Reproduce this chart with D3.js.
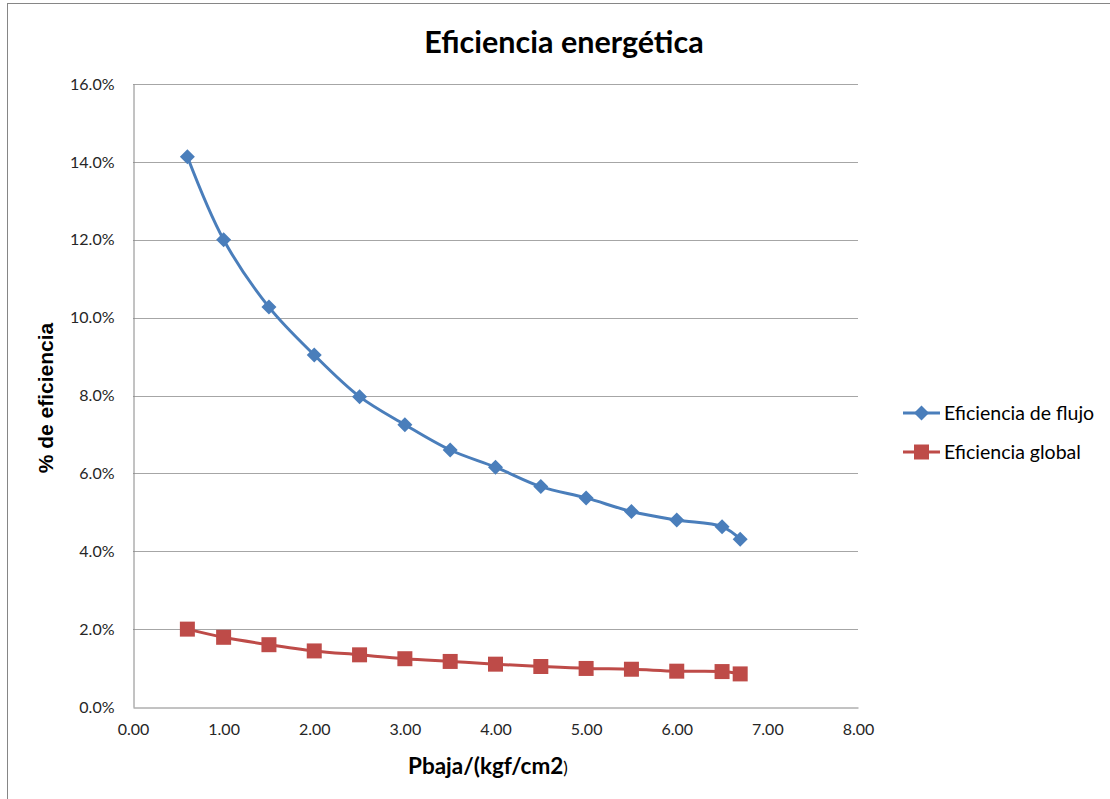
<!DOCTYPE html>
<html>
<head>
<meta charset="utf-8">
<script src="https://cdn.jsdelivr.net/npm/d3@7"></script>
<style>
  html, body { margin: 0; padding: 0; background: #fff; }
  svg { display: block; }
</style>
</head>
<body>
<svg id="chart" width="1110" height="799"></svg>
<script>
// Pressure values (kgf/cm2)
const pressure = [0.6, 1.0, 1.5, 2.0, 2.5, 3.0, 3.5, 4.0, 4.5, 5.0, 5.5, 6.0, 6.5, 6.7];
// Efficiencies, as fractions
const eficienciaFlujo  = [0.1413, 0.1200, 0.1027, 0.0904, 0.0797, 0.0725, 0.0660, 0.0616, 0.0566, 0.0537, 0.0502, 0.0480, 0.0463, 0.0431];
const eficienciaGlobal = [0.0200, 0.0179, 0.0160, 0.0144, 0.0134, 0.0124, 0.0117, 0.0110, 0.0104, 0.0099, 0.0097, 0.0092, 0.0091, 0.0085];
const seriesNames = ["Eficiencia de flujo", "Eficiencia global"];
const xTicks = [0, 1, 2, 3, 4, 5, 6, 7, 8];
const yTicks = [0, 0.02, 0.04, 0.06, 0.08, 0.10, 0.12, 0.14, 0.16];

const FONT = "Lato, 'Open Sans', sans-serif";
const BLUE = "#4a7ebb", RED = "#be4b48", GRID = "#a6a6a6", AXIS = "#868686";

const svg = d3.select("#chart");

// Outer chart frame
svg.append("rect")
  .attr("x", 7.5).attr("y", 3.5)
  .attr("width", 1120).attr("height", 820)
  .attr("fill", "#fff").attr("stroke", AXIS).attr("stroke-width", 1);

const plot = { left: 133, right: 858, top: 84, bottom: 707 };
const x = d3.scaleLinear().domain([0, 8]).range([plot.left, plot.right]);
const y = d3.scaleLinear().domain([0, 0.16]).range([plot.bottom, plot.top]);

// Horizontal gridlines
svg.append("g")
  .selectAll("line")
  .data(yTicks.filter(d => d > 0))
  .join("line")
  .attr("x1", plot.left).attr("x2", plot.right)
  .attr("y1", d => Math.round(y(d)) + 0.5).attr("y2", d => Math.round(y(d)) + 0.5)
  .attr("stroke", GRID).attr("stroke-width", 1);

// Y axis
const yAxis = svg.append("g")
  .attr("transform", `translate(${plot.left + 0.5},0)`)
  .call(d3.axisLeft(y).tickValues(yTicks).tickFormat(d3.format(".1%")).tickSize(0).tickPadding(19));
yAxis.select(".domain").attr("stroke", AXIS);
yAxis.selectAll("text").attr("font-family", FONT).attr("font-size", 16).attr("fill", "#262626");

// X axis
const xAxis = svg.append("g")
  .attr("transform", `translate(0,${plot.bottom + 0.5})`)
  .call(d3.axisBottom(x).tickValues(xTicks).tickFormat(d3.format(".2f")).tickSize(0).tickPadding(16));
xAxis.select(".domain").attr("stroke", AXIS);
xAxis.selectAll("text").attr("font-family", FONT).attr("font-size", 16).attr("fill", "#262626");

// Series
const series = [
  { name: seriesNames[0], values: eficienciaFlujo, color: BLUE, shape: "diamond" },
  { name: seriesNames[1], values: eficienciaGlobal, color: RED, shape: "square" }
];

const line = d3.line()
  .x(d => x(d[0])).y(d => y(d[1]))
  .curve(d3.curveCatmullRom.alpha(0.5));

const diamond = s => `M0,${-s} L${s},0 L0,${s} L${-s},0 Z`;
const square = s => `M${-s},${-s} H${s} V${s} H${-s} Z`;
const markerPath = (shape) => shape === "diamond" ? diamond(7.5) : square(7.5);

series.forEach(s => {
  const pts = pressure.map((p, i) => [p, s.values[i]]);
  svg.append("path")
    .datum(pts)
    .attr("d", line)
    .attr("fill", "none")
    .attr("stroke", s.color)
    .attr("stroke-width", 3)
    .attr("stroke-linejoin", "round");
  svg.append("g")
    .selectAll("path")
    .data(pts)
    .join("path")
    .attr("transform", d => `translate(${x(d[0])},${y(d[1])})`)
    .attr("d", markerPath(s.shape))
    .attr("fill", s.color);
});

// Title
svg.append("text")
  .attr("x", 564).attr("y", 53)
  .attr("text-anchor", "middle")
  .attr("font-family", FONT).attr("font-weight", "bold").attr("font-size", 30.5)
  .attr("fill", "#000")
  .text("Eficiencia energética");

// X axis title
const xt = svg.append("text")
  .attr("x", 408).attr("y", 774)
  .attr("font-family", FONT).attr("font-weight", "bold").attr("fill", "#000");
xt.append("tspan").attr("font-size", 22.5).text("Pbaja/(kgf/cm2");
xt.append("tspan").attr("font-size", 17).attr("font-weight", "normal").text(")");

// Y axis title
svg.append("text")
  .attr("transform", "translate(53,398) rotate(-90)")
  .attr("text-anchor", "middle")
  .attr("font-family", "'Liberation Sans Narrow', 'Arial Narrow', sans-serif")
  .attr("font-weight", "bold").attr("font-size", 21)
  .attr("fill", "#000")
  .text("% de eficiencia");

// Legend
const legend = svg.append("g");
series.forEach((s, i) => {
  const ly = 413 + i * 39;
  legend.append("line")
    .attr("x1", 903).attr("x2", 940).attr("y1", ly).attr("y2", ly)
    .attr("stroke", s.color).attr("stroke-width", 3);
  legend.append("path")
    .attr("transform", `translate(921.5,${ly})`)
    .attr("d", markerPath(s.shape))
    .attr("fill", s.color);
  legend.append("text")
    .attr("x", 944).attr("y", ly + 6.5)
    .attr("font-family", FONT).attr("font-size", 19.5).attr("fill", "#000")
    .text(s.name);
});
</script>
</body>
</html>
